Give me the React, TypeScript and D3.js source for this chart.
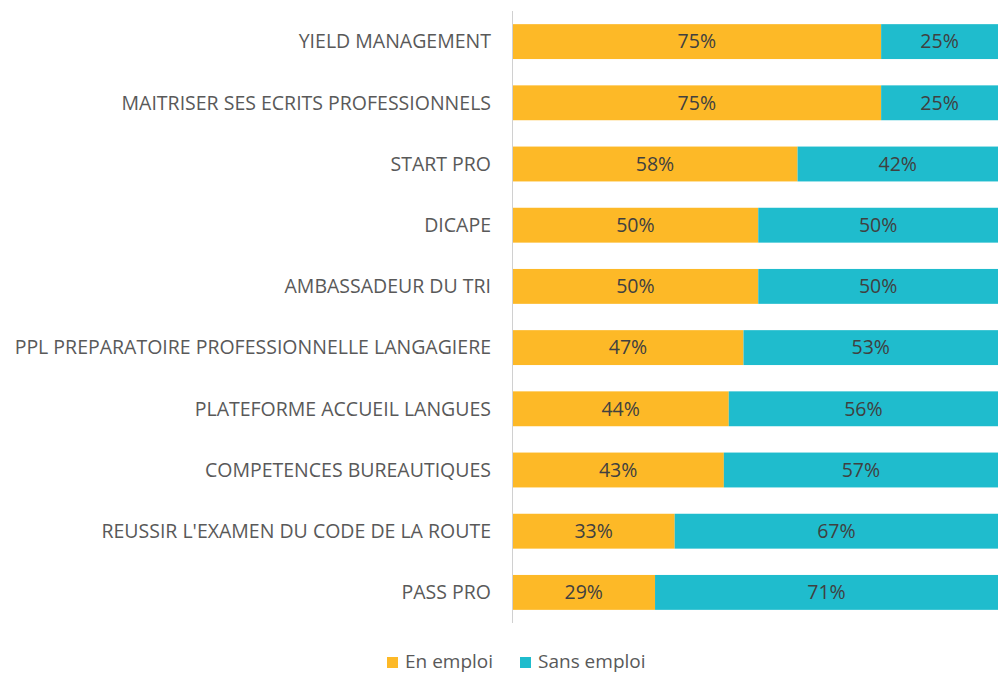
import React from "react";
import * as d3 from "d3";

const categories = [
  "YIELD MANAGEMENT",
  "MAITRISER SES ECRITS PROFESSIONNELS",
  "START PRO",
  "DICAPE",
  "AMBASSADEUR DU TRI",
  "PPL PREPARATOIRE PROFESSIONNELLE LANGAGIERE",
  "PLATEFORME ACCUEIL LANGUES",
  "COMPETENCES BUREAUTIQUES",
  "REUSSIR L'EXAMEN DU CODE DE LA ROUTE",
  "PASS PRO",
];
const enEmploi = [75, 75, 58, 50, 50, 47, 44, 43, 33, 29];
const sansEmploi = [25, 25, 42, 50, 50, 53, 56, 57, 67, 71];
const seriesNames = ["En emploi", "Sans emploi"];
const colors = ["#FDB927", "#1FBCCD"];

const W = 998;
const H = 675;
const FONT = "'Open Sans', sans-serif";
const FS = 19.5;

export default function App() {
  const x = d3.scaleLinear().domain([0, 100]).range([512.5, 1004]);
  const y = d3.scaleBand<string>().domain(categories).range([11, 623]).paddingInner(0.43).paddingOuter(0.215);
  const data = categories.map((c, i) => ({ c, vals: [enEmploi[i], sansEmploi[i]] }));
  const stack = d3.stack<any>().keys(["0", "1"]).value((d, k) => d.vals[+k]);
  const stacked = stack(data);

  return (
    <svg width={W} height={H} style={{ position: "absolute", left: 0, top: 0, background: "#fff" }}>
      {stacked.map((layer, si) =>
        layer.map((seg, i) => (
          <g key={si + "-" + i}>
            <rect
              x={x(seg[0])}
              y={y(categories[i])}
              width={x(seg[1]) - x(seg[0])}
              height={y.bandwidth()}
              fill={colors[si]}
            />
            <text
              x={(x(seg[0]) + Math.min(x(seg[1]), W)) / 2}
              y={(y(categories[i]) as number) + y.bandwidth() / 2}
              dy="0.35em"
              textAnchor="middle"
              fontFamily={FONT}
              fontSize={FS}
              fill="#404040"
            >
              {(si === 0 ? enEmploi[i] : sansEmploi[i]) + "%"}
            </text>
          </g>
        ))
      )}
      <line x1={512.5} x2={512.5} y1={11} y2={623} stroke="#d0d0d0" strokeWidth={1} />
      {categories.map((c) => (
        <text
          key={c}
          x={491}
          y={(y(c) as number) + y.bandwidth() / 2}
          dy="0.35em"
          textAnchor="end"
          fontFamily={FONT}
          fontSize={FS}
          fill="#595959"
        >
          {c}
        </text>
      ))}
      {seriesNames.map((s, i) => {
        const lx = [387, 520][i];
        return (
          <g key={s}>
            <rect x={lx} y={657} width={11} height={11} fill={colors[i]} />
            <text x={lx + 18} y={661} dy="0.35em" fontFamily={FONT} fontSize={19} fill="#595959">
              {s}
            </text>
          </g>
        );
      })}
    </svg>
  );
}
